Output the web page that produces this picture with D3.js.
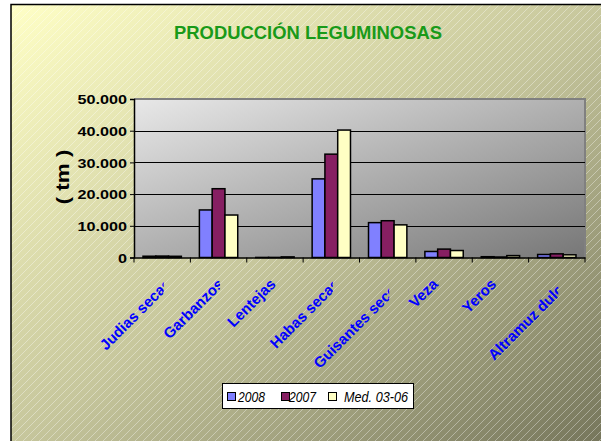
<!DOCTYPE html>
<html>
<head>
<meta charset="utf-8">
<script src="https://cdn.jsdelivr.net/npm/d3@7"></script>
<style>
  body { margin: 0; background: #fff; }
  text { font-family: "Liberation Sans", Arial, sans-serif; }
</style>
</head>
<body>
<div id="chart"></div>
<script>
// data
const categories = ["Judias secas", "Garbanzos", "Lentejas", "Habas secas", "Guisantes secos", "Veza", "Yeros", "Altramuz dulce"];
const seriesNames = ["2008", "2007", "Med. 03-06"];
const v2008 = [400, 15000, 20, 24800, 11000, 1900, 250, 950];
const v2007 = [450, 21700, 30, 32600, 11600, 2650, 150, 1150];
const vMed = [380, 13400, 200, 40200, 10300, 2200, 600, 850];
const yTicks = [0, 10000, 20000, 30000, 40000, 50000];
const seriesColors = ["#8080FF", "#861F62", "#FFFFC4"];

const width = 601, height = 441;
const plot = { left: 134, right: 585, top: 99, bottom: 257.5 };

const svg = d3.select("#chart").append("svg")
    .attr("width", width)
    .attr("height", height);

const defs = svg.append("defs");

// chart background gradient
const bg = defs.append("linearGradient")
    .attr("id", "bg").attr("x1", 0).attr("y1", 0).attr("x2", 1).attr("y2", 1);
bg.append("stop").attr("offset", 0).attr("stop-color", "#FFFFC6");
bg.append("stop").attr("offset", 0.5).attr("stop-color", "#C6C69C");
bg.append("stop").attr("offset", 1).attr("stop-color", "#74745A");

// diagonal white hatch
const hatch = defs.append("pattern")
    .attr("id", "hatch").attr("patternUnits", "userSpaceOnUse")
    .attr("width", 8).attr("height", 8);
hatch.append("path")
    .attr("d", "M-2,2 L2,-2 M0,8 L8,0 M6,10 L10,6")
    .attr("stroke", "#fff").attr("stroke-opacity", 0.45).attr("stroke-width", 0.8);

// plot area gradient
const pg = defs.append("linearGradient")
    .attr("id", "pg").attr("x1", 0).attr("y1", 0).attr("x2", 1).attr("y2", 1);
pg.append("stop").attr("offset", 0).attr("stop-color", "#E8E8E8");
pg.append("stop").attr("offset", 1).attr("stop-color", "#777777");

svg.append("rect").attr("x", 11).attr("y", 4.5).attr("width", width).attr("height", height)
    .attr("fill", "url(#bg)");
svg.append("rect").attr("x", 11).attr("y", 4.5).attr("width", width).attr("height", height)
    .attr("fill", "url(#hatch)");
svg.append("path").attr("d", `M11,${height} V4.5 H${width}`)
    .attr("fill", "none").attr("stroke", "#000").attr("stroke-width", 1.5);

// title
svg.append("text")
    .attr("x", 308).attr("y", 39)
    .attr("text-anchor", "middle")
    .attr("font-size", 18).attr("font-weight", "bold")
    .attr("fill", "#199A19")
    .attr("textLength", 268).attr("lengthAdjust", "spacingAndGlyphs")
    .text("PRODUCCIÓN LEGUMINOSAS");

// scales
const x0 = d3.scaleBand().domain(categories).range([plot.left, plot.right]);
const x1 = d3.scaleBand().domain(seriesNames).range([0, x0.bandwidth()]).paddingOuter(0.705);
const y = d3.scaleLinear().domain([0, 50000]).range([plot.bottom, plot.top]);

// plot area
svg.append("rect")
    .attr("x", plot.left).attr("y", plot.top)
    .attr("width", plot.right - plot.left).attr("height", plot.bottom - plot.top)
    .attr("fill", "url(#pg)");
svg.append("path")
    .attr("d", `M${plot.left},${plot.top} H${plot.right} V${plot.bottom}`)
    .attr("fill", "none").attr("stroke", "#808080").attr("stroke-width", 2);

// gridlines
svg.append("g").selectAll("line")
    .data(yTicks.filter(t => t > 0 && t < 50000))
    .join("line")
    .attr("x1", plot.left).attr("x2", plot.right)
    .attr("y1", d => Math.round(y(d)) + 0.5).attr("y2", d => Math.round(y(d)) + 0.5)
    .attr("stroke", "#000").attr("stroke-width", 1);

// bars
const table = categories.map((c, i) => ({ cat: c, values: [v2008[i], v2007[i], vMed[i]] }));
const groups = svg.append("g").selectAll("g")
    .data(table)
    .join("g")
    .attr("transform", d => `translate(${x0(d.cat)},0)`);
groups.selectAll("rect")
    .data(d => d.values.map((v, k) => ({ key: seriesNames[k], value: v, k })))
    .join("rect")
    .attr("x", d => x1(d.key))
    .attr("width", x1.bandwidth())
    .attr("y", d => y(d.value))
    .attr("height", d => plot.bottom - y(d.value))
    .attr("fill", d => seriesColors[d.k])
    .attr("stroke", "#000").attr("stroke-width", 1.5);

// y axis
const yAxis = svg.append("g")
    .attr("transform", `translate(${plot.left},0)`)
    .call(d3.axisLeft(y).tickValues(yTicks).tickSize(4).tickPadding(3)
        .tickFormat(d => d3.format(",")(d).replace(/,/g, ".")));
yAxis.select(".domain").attr("stroke", "#000").attr("stroke-width", 1.5);
yAxis.selectAll(".tick line").attr("stroke", "#000");
yAxis.selectAll(".tick text")
    .attr("font-family", "Liberation Sans, Arial, sans-serif")
    .attr("font-size", 13.5).attr("font-weight", "bold").attr("fill", "#000")
    .attr("dy", "0.36em")
    .each(function() {
        const w = this.getComputedTextLength();
        d3.select(this).attr("textLength", w * 1.2).attr("lengthAdjust", "spacingAndGlyphs");
    });

// x axis
const xAxis = svg.append("g")
    .attr("transform", `translate(0,${plot.bottom})`)
    .call(d3.axisBottom(x0).tickSize(0).tickFormat(""));
xAxis.select(".domain").attr("stroke", "#000").attr("stroke-width", 1.5);
svg.append("g").selectAll("line")
    .data(d3.range(categories.length + 1))
    .join("line")
    .attr("x1", i => plot.left + i * x0.step()).attr("x2", i => plot.left + i * x0.step())
    .attr("y1", plot.bottom).attr("y2", plot.bottom + 5)
    .attr("stroke", "#000");

// rotated, clipped category labels
categories.forEach((c, i) => {
    const cx = x0(c) + x0.bandwidth() / 2;
    defs.append("clipPath").attr("id", "clip" + i)
        .append("rect").attr("x", 0).attr("y", plot.bottom + 6)
        .attr("width", cx + 1.5).attr("height", 200);
    const g = svg.append("g").attr("clip-path", `url(#clip${i})`);
    const t = g.append("text")
        .attr("font-size", 15).attr("font-weight", "bold").attr("fill", "#0000FF")
        .attr("text-anchor", "end")
        .text(c);
    const len = t.node().getComputedTextLength();
    const ex = cx - 13.5 + 0.25 * len;
    t.attr("transform", `translate(${ex},285) rotate(-45)`);
});

// y axis title
svg.append("text")
    .attr("transform", "translate(69,177) rotate(-90)")
    .attr("text-anchor", "middle")
    .attr("font-size", 19).attr("font-weight", "bold").attr("fill", "#000")
    .attr("textLength", 55).attr("lengthAdjust", "spacingAndGlyphs")
    .text("( tm )");

// legend
const legend = svg.append("g");
legend.append("rect")
    .attr("x", 222.5).attr("y", 383.5).attr("width", 191).attr("height", 25)
    .attr("fill", "#fff").attr("stroke", "#000").attr("stroke-width", 1);
const legendX = [227, 281, 328];
const legendTextX = [238, 289, 344];
const legendTextW = [27, 27, 64];
seriesNames.forEach((s, k) => {
    legend.append("rect")
        .attr("x", legendX[k] + 0.5).attr("y", 392.5).attr("width", 8).attr("height", 8)
        .attr("fill", seriesColors[k]).attr("stroke", "#000");
    legend.append("text")
        .attr("x", legendTextX[k]).attr("y", 401.5)
        .attr("font-size", 14).attr("font-style", "italic").attr("fill", "#000")
        .attr("textLength", legendTextW[k]).attr("lengthAdjust", "spacingAndGlyphs")
        .text(s);
});
</script>
</body>
</html>
